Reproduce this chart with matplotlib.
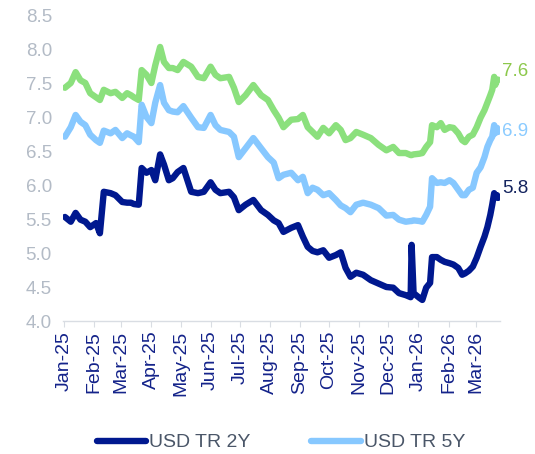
import numpy as np
import pandas as pd
import matplotlib as mpl
import matplotlib.pyplot as plt
import matplotlib.dates as mdates

mpl.rcParams['font.family'] = ['Liberation Sans', 'DejaVu Sans']

# dates (roughly weekly, plus the jumps / spikes)
dates = pd.to_datetime([
    '2025-01-02', '2025-01-08', '2025-01-13', '2025-01-18', '2025-01-23', '2025-01-28',
    '2025-02-03', '2025-02-07', '2025-02-11', '2025-02-18', '2025-02-23', '2025-03-02',
    '2025-03-07', '2025-03-11', '2025-03-14', '2025-03-19', '2025-03-22', '2025-03-27',
    '2025-04-01', '2025-04-05', '2025-04-10', '2025-04-14', '2025-04-19', '2025-04-23',
    '2025-04-28', '2025-05-04', '2025-05-12', '2025-05-19', '2025-05-25', '2025-06-01',
    '2025-06-06', '2025-06-11', '2025-06-20', '2025-06-25', '2025-06-30', '2025-07-07',
    '2025-07-15', '2025-07-23', '2025-07-30', '2025-08-05', '2025-08-10', '2025-08-15',
    '2025-08-23', '2025-08-30', '2025-09-04', '2025-09-09', '2025-09-14', '2025-09-19',
    '2025-09-25', '2025-10-01', '2025-10-08', '2025-10-13', '2025-10-18', '2025-10-23',
    '2025-10-29', '2025-11-05', '2025-11-13', '2025-11-21', '2025-11-29', '2025-12-06',
    '2025-12-12', '2025-12-19', '2025-12-24', '2025-12-25', '2025-12-27', '2026-01-02',
    '2026-01-05', '2026-01-09', '2026-01-13', '2026-01-15', '2026-01-20', '2026-01-24',
    '2026-01-28', '2026-02-02', '2026-02-06', '2026-02-11', '2026-02-15', '2026-02-18',
    '2026-02-22', '2026-02-26', '2026-03-02', '2026-03-06', '2026-03-10', '2026-03-13',
    '2026-03-16', '2026-03-18', '2026-03-20', '2026-03-21', '2026-03-23', '2026-03-24',
])

tr2y = [
    5.53, 5.46, 5.59, 5.49, 5.46, 5.38,
    5.44, 5.29, 5.90, 5.88, 5.85, 5.75,
    5.74, 5.74, 5.72, 5.71, 6.25, 6.18,
    6.22, 6.07, 6.45, 6.30, 6.07, 6.10,
    6.19, 6.25, 5.90, 5.88, 5.90, 6.04,
    5.93, 5.88, 5.90, 5.82, 5.63, 5.71,
    5.78, 5.63, 5.56, 5.48, 5.44, 5.31,
    5.37, 5.41, 5.24, 5.09, 5.03, 5.01,
    5.04, 4.93, 4.97, 5.01, 4.78, 4.65,
    4.71, 4.68, 4.60, 4.55, 4.50, 4.49,
    4.41, 4.38, 4.35, 5.12, 4.41, 4.34,
    4.31, 4.49, 4.56, 4.94, 4.94, 4.90,
    4.87, 4.85, 4.83, 4.78, 4.68, 4.70,
    4.74, 4.80, 4.93, 5.09, 5.24, 5.38,
    5.56, 5.71, 5.88, 5.82, 5.85, 5.81,
]

tr5y = [
    6.71, 6.85, 7.03, 6.93, 6.88, 6.74,
    6.66, 6.62, 6.80, 6.76, 6.81, 6.69,
    6.76, 6.73, 6.71, 6.63, 7.18, 7.00,
    6.91, 7.21, 7.47, 7.21, 7.10, 7.08,
    7.07, 7.16, 6.99, 6.85, 6.84, 7.03,
    6.88, 6.81, 6.78, 6.71, 6.41, 6.54,
    6.69, 6.54, 6.41, 6.33, 6.10, 6.15,
    6.18, 6.07, 6.12, 5.88, 5.96, 5.93,
    5.85, 5.88, 5.78, 5.70, 5.66, 5.60,
    5.71, 5.74, 5.71, 5.66, 5.55, 5.56,
    5.49, 5.46, 5.47, 5.47, 5.48, 5.47,
    5.46, 5.56, 5.68, 6.10, 6.03, 6.04,
    6.03, 6.07, 6.03, 5.93, 5.85, 5.85,
    5.93, 5.96, 6.18, 6.26, 6.41, 6.56,
    6.66, 6.71, 6.88, 6.76, 6.84, 6.78,
]

tr10y = [
    7.43, 7.50, 7.66, 7.54, 7.50, 7.35,
    7.29, 7.25, 7.40, 7.35, 7.37, 7.28,
    7.35, 7.32, 7.29, 7.25, 7.69, 7.62,
    7.50, 7.76, 8.03, 7.81, 7.72, 7.72,
    7.69, 7.81, 7.74, 7.59, 7.57, 7.74,
    7.62, 7.57, 7.59, 7.43, 7.22, 7.32,
    7.47, 7.32, 7.25, 7.10, 6.99, 6.85,
    6.96, 6.97, 7.03, 6.85, 6.78, 6.71,
    6.84, 6.76, 6.88, 6.81, 6.66, 6.69,
    6.78, 6.74, 6.69, 6.59, 6.51, 6.56,
    6.47, 6.47, 6.44, 6.44, 6.45, 6.46,
    6.47, 6.56, 6.63, 6.88, 6.85, 6.91,
    6.81, 6.85, 6.84, 6.76, 6.66, 6.63,
    6.71, 6.74, 6.85, 6.99, 7.10, 7.21,
    7.32, 7.40, 7.59, 7.47, 7.54, 7.55,
]

end_labels = ['7.6', '6.9', '5.8']

navy = '#00188F'
lblue = '#87C8FF'
green = '#8BE07D'

fig = plt.figure(figsize=(5.35, 4.54), dpi=100)
ax = fig.add_axes([63 / 535, 1 - 321 / 454, 437 / 535, 306 / 454])

lw = 4.6
ax.plot(dates, tr10y, color=green, lw=lw, solid_joinstyle='round', solid_capstyle='round')
ax.plot(dates, tr5y, color=lblue, lw=lw, solid_joinstyle='round', solid_capstyle='round',
        label='USD TR 5Y')
ax.plot(dates, tr2y, color=navy, lw=lw, solid_joinstyle='round', solid_capstyle='round',
        label='USD TR 2Y')

# end-of-series value labels
lab_cols = ['#8CC84B', '#8ACBFF', '#13235E']
lab_off = [6, 0, 7]
for ser, txt, c, off in zip([tr10y, tr5y, tr2y], end_labels, lab_cols, lab_off):
    ax.annotate(txt, (dates[-1], ser[-1]), xytext=(3, off), textcoords='offset points',
                color=c, fontsize=13.5, va='center', ha='left', annotation_clip=False)

ax.set_ylim(4.0, 8.5)
ax.set_yticks(np.arange(4.0, 8.51, 0.5))
ax.yaxis.set_major_formatter(mpl.ticker.FormatStrFormatter('%.1f'))
ax.set_xlim(pd.Timestamp('2024-12-31'), pd.Timestamp('2026-03-26'))
ax.xaxis.set_major_locator(mdates.MonthLocator())
ax.xaxis.set_major_formatter(mdates.DateFormatter('%b-%y'))

for s in ['top', 'right', 'left']:
    ax.spines[s].set_visible(False)
ax.spines['bottom'].set_color('#d9dde3')
ax.spines['bottom'].set_linewidth(1.0)

ax.tick_params(axis='y', length=0, labelsize=13.5, labelcolor='#B3BBC6', pad=8)
ax.tick_params(axis='x', length=4, color='#d9dde3', labelsize=14, labelcolor='#14238A',
               labelrotation=90, pad=3)

h, l = ax.get_legend_handles_labels()
leg = fig.legend(h[::-1], l[::-1], loc='center', bbox_to_anchor=(0.525, 0.025), ncol=2,
                 frameon=False, fontsize=14, handlelength=2.55, handletextpad=0.15,
                 columnspacing=3.1)
for t in leg.get_texts():
    t.set_color('#4A5668')

fig.savefig('out.png', dpi=100)
